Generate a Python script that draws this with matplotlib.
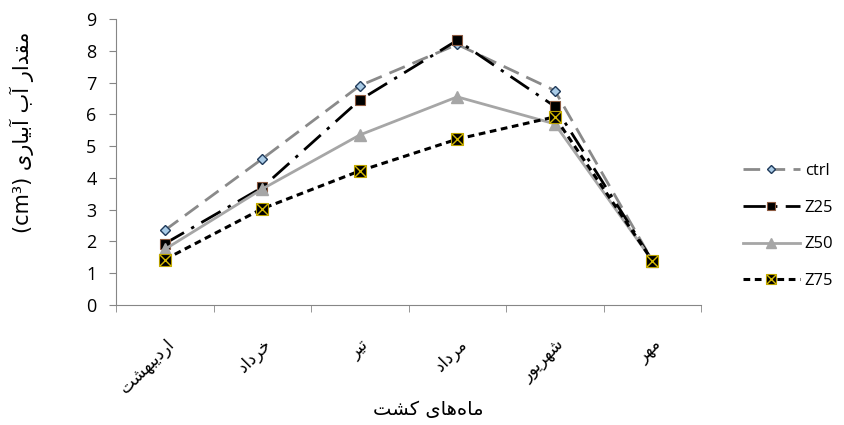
import matplotlib
matplotlib.use("Agg")
import matplotlib.pyplot as plt

# --- minimal Persian shaping (presentation forms, visual order) ---
FORMS = {
    'ا': ('\uFE8D', '\uFE8E', None, None),
    'آ': ('\uFE81', '\uFE82', None, None),
    'ب': ('\uFE8F', '\uFE90', '\uFE91', '\uFE92'),
    'ت': ('\uFE95', '\uFE96', '\uFE97', '\uFE98'),
    'خ': ('\uFEA5', '\uFEA6', '\uFEA7', '\uFEA8'),
    'د': ('\uFEA9', '\uFEAA', None, None),
    'ر': ('\uFEAD', '\uFEAE', None, None),
    'ش': ('\uFEB5', '\uFEB6', '\uFEB7', '\uFEB8'),
    'ق': ('\uFED5', '\uFED6', '\uFED7', '\uFED8'),
    'م': ('\uFEE1', '\uFEE2', '\uFEE3', '\uFEE4'),
    'ه': ('\uFEE9', '\uFEEA', '\uFEEB', '\uFEEC'),
    'و': ('\uFEED', '\uFEEE', None, None),
    'ی': ('\uFBFC', '\uFBFD', '\uFBFE', '\uFBFF'),
    'ک': ('\uFB8E', '\uFB8F', '\uFB90', '\uFB91'),
}


def fa(s):
    out = []
    for i, c in enumerate(s):
        if c not in FORMS:
            if c != '\u200c':
                out.append(c)
            continue
        prev = s[i - 1] if i > 0 else ''
        nxt = s[i + 1] if i + 1 < len(s) else ''
        jp = prev in FORMS and FORMS[prev][2] is not None
        jn = nxt in FORMS and FORMS[c][2] is not None
        f = FORMS[c]
        if jp and jn:
            out.append(f[3])
        elif jp:
            out.append(f[1])
        elif jn:
            out.append(f[2])
        else:
            out.append(f[0])
    return ''.join(out[::-1])


months = ['اردیبهشت', 'خرداد', 'تیر', 'مرداد', 'شهریور', 'مهر']
ctrl = [2.35, 4.6, 6.9, 8.2, 6.75, 1.4]
z25 = [1.93, 3.7, 6.45, 8.33, 6.25, 1.4]
z50 = [1.75, 3.65, 5.35, 6.55, 5.7, 1.4]
z75 = [1.43, 3.03, 4.22, 5.22, 5.92, 1.4]
yticks = list(range(0, 10))

plt.rcParams['font.family'] = ['Open Sans', 'DejaVu Sans']

fig = plt.figure(figsize=(8.44, 4.25), dpi=100)
ax = fig.add_axes([116 / 844, 1 - 305 / 425, 585 / 844, 286 / 425])
x = list(range(len(months)))

l1, = ax.plot(x, ctrl, color='#8a8a8a', lw=2, dashes=(6, 3), marker='D', ms=5,
              mfc='#a9cbe6', mec='#1f3a5a', mew=1, label='ctrl')
l2, = ax.plot(x, z25, color='black', lw=2, dashes=(8, 3, 1.2, 3), marker='s', ms=7,
              mfc='black', mec='#8c5a40', mew=0.8, label='Z25')
l3, = ax.plot(x, z50, color='#a6a6a6', lw=2, marker='^', ms=8,
              mfc='#a6a6a6', mec='#a6a6a6', label='Z50')
l4, = ax.plot(x, z75, color='black', lw=2.2, dashes=(2.2, 1.5), marker='s', ms=9,
              mfc='black', mec='#b8a000', mew=0.8, label='Z75')
l4x, = ax.plot(x, z75, ls='none', marker='x', ms=8, mec='#d4b800', mew=1)

ax.set_xlim(-0.5, 5.5)
ax.set_ylim(0, 9)
ax.set_yticks(yticks)
ax.set_xticks(x)
ax.set_xticks([i - 0.5 for i in range(len(months) + 1)], minor=True)
ax.set_xticklabels([fa(m) for m in months], rotation=45, ha='right',
                   rotation_mode='anchor', fontsize=12, family='DejaVu Sans')
ax.tick_params(axis='x', which='major', length=0, pad=22)
ax.tick_params(axis='x', which='minor', length=5, color='#868686')
ax.tick_params(axis='y', length=5, color='#868686', labelsize=13, pad=9)

for s in ['top', 'right']:
    ax.spines[s].set_visible(False)
for s in ['left', 'bottom']:
    ax.spines[s].set_color('#868686')

fig.text(22 / 844, 1 - 132 / 425, '(cm³) ' + fa('مقدار آب آبیاری'), fontsize=15,
         family='DejaVu Sans', rotation=90, ha='center', va='center')
fig.text(428 / 844, 1 - 410 / 425, fa('ماه\u200cهای کشت'), fontsize=14,
         family='DejaVu Sans', ha='center', va='center')

ax.legend([l1, l2, l3, (l4, l4x)], ['ctrl', 'Z25', 'Z50', 'Z75'],
          loc='center left', bbox_to_anchor=(728 / 844, 1 - 226 / 425),
          bbox_transform=fig.transFigure, frameon=False, fontsize=12,
          handlelength=3.4, labelspacing=1.25, handletextpad=0.3,
          markerscale=0.85)

fig.savefig('out.png', dpi=100)
